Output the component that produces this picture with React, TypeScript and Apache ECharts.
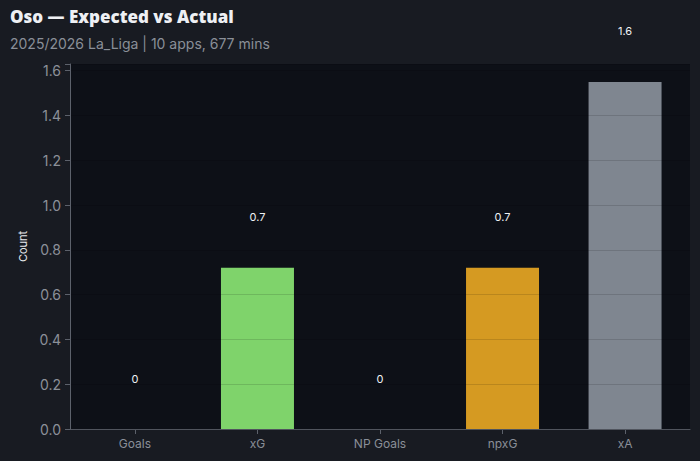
import React, { useEffect, useRef } from "react";
import * as echarts from "echarts";

const categories = ["Goals", "xG", "NP Goals", "npxG", "xA"];
const values = [0, 0.72, 0, 0.72, 1.55];
const labels = ["0", "0.7", "0", "0.7", "1.6"];
const barColors = ["#7fd36b", "#7fd36b", "#d59a22", "#d59a22", "#7f8690"];

export default function App() {
  const ref = useRef<HTMLDivElement>(null);
  useEffect(() => {
    const chart = echarts.init(ref.current!, undefined, { renderer: "svg" });
    const idx = categories.map((_, i) => i);
    chart.setOption({
      animation: false,
      backgroundColor: "#181b22",
      title: {
        text: "Oso — Expected vs Actual",
        subtext: "2025/2026 La_Liga | 10 apps, 677 mins",
        left: 10,
        top: 8,
        padding: 0,
        itemGap: 11,
        textStyle: { color: "#eef0f4", fontSize: 17, fontWeight: 800, fontFamily: "Open Sans" },
        subtextStyle: { color: "#8a8f98", fontSize: 14, fontFamily: "Inter" },
      },
      grid: { left: 70, right: 10, top: 64, bottom: 32, backgroundColor: "#0d1017", show: true, borderWidth: 0 },
      xAxis: {
        type: "value",
        min: -0.53,
        max: 4.53,
        splitLine: { show: false },
        axisLine: { show: true, onZero: false, lineStyle: { color: "#5c616b" } },
        axisTick: { show: true, customValues: idx, lineStyle: { color: "#5c616b" } },
        axisLabel: {
          customValues: idx,
          color: "#8a8f98",
          fontSize: 12,
          fontFamily: "Inter",
          margin: 8,
          formatter: (v: number) => categories[Math.round(v)] ?? "",
        },
      },
      yAxis: {
        type: "value",
        min: 0,
        max: 1.63,
        interval: 0.2,
        z: 3,
        name: "Count",
        nameLocation: "middle",
        nameGap: 38,
        nameTextStyle: { color: "#e6e8ec", fontSize: 11, fontFamily: "Inter" },
        axisLine: { show: true, onZero: false, lineStyle: { color: "#5c616b" } },
        axisTick: { show: true, lineStyle: { color: "#5c616b" } },
        axisLabel: {
          color: "#8c9099",
          fontSize: 14,
          fontFamily: "Inter",
          margin: 9,
          formatter: (v: number) => (v > 1.62 ? "" : v.toFixed(1)),
        },
        splitLine: { show: true, lineStyle: { color: "rgba(0,0,0,0.13)", width: 1 } },
      },
      series: [
        {
          type: "bar",
          data: values.map((v, i) => ({ value: [i, v], itemStyle: { color: barColors[i] } })),
          barWidth: 73,
          z: 2,
          label: {
            show: true,
            position: "top",
            distance: 45,
            color: "#eef0f4",
            fontSize: 11,
            fontFamily: "Inter",
            formatter: (p: any) => labels[p.dataIndex],
          },
        },
      ],
    });
    return () => chart.dispose();
  }, []);
  return <div ref={ref} style={{ width: 700, height: 461, position: "absolute", left: 0, top: 0 }} />;
}
